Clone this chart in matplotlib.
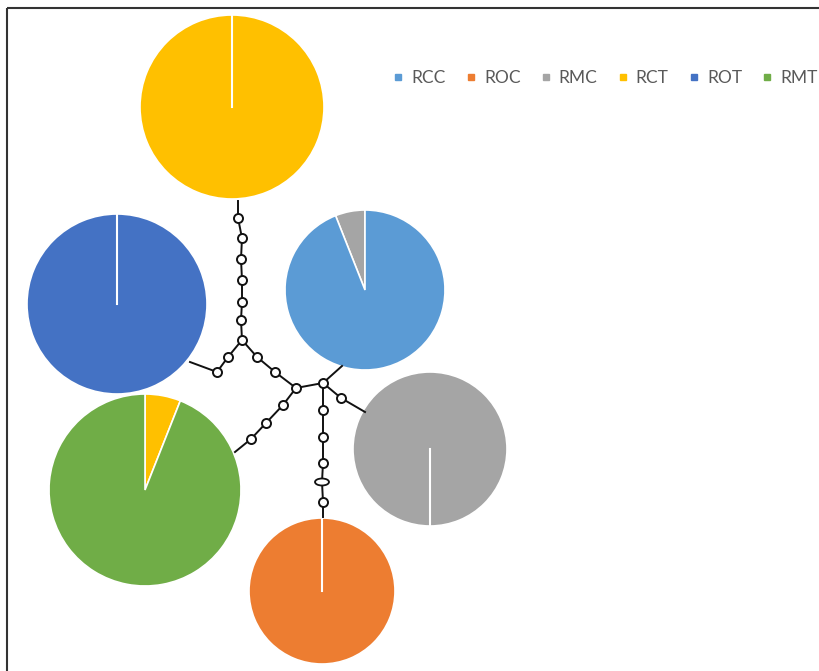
import numpy as np
import matplotlib
matplotlib.use("Agg")
import matplotlib.pyplot as plt
from matplotlib.lines import Line2D
from matplotlib.patches import Ellipse

W, H = 820, 671

# haplotype groups and colours
groups = ["RCC", "ROC", "RMC", "RCT", "ROT", "RMT"]
colors = {"RCC": "#5B9BD5", "ROC": "#ED7D31", "RMC": "#A5A5A5",
          "RCT": "#FFC000", "ROT": "#4472C4", "RMT": "#70AD47"}

# pie contents (share of each group in the haplotype)
pie_RCT = {"RCT": 100}
pie_ROT = {"ROT": 100}
pie_RCC = {"RMC": 6, "RCC": 94}
pie_RMC = {"RMC": 100}
pie_ROC = {"ROC": 100}
pie_RMT = {"RCT": 6, "RMT": 94}

# layout in pixel space (x right, y down): centre x, centre y, radius, start angle, clockwise
layout = [
    (pie_RCT, 232, 107, 92, 90, False),
    (pie_ROT, 117, 304, 90, 90, False),
    (pie_RCC, 365, 290, 80, 90, False),
    (pie_RMC, 430, 449, 77, -90, False),
    (pie_ROC, 322, 591, 73, 90, False),
    (pie_RMT, 145, 490, 96, 90, True),
]

# network branches (pixel space)
paths = [
    [(238, 201), (238, 218), (242, 238), (241, 259), (242, 280), (242, 302), (241, 320), (242, 340)],
    [(242, 340), (228, 357), (217, 372), (190, 362)],
    [(242, 340), (257, 357), (275, 372), (296, 388), (323, 383)],
    [(296, 388), (283, 405), (266, 423), (251, 439), (235, 452)],
    [(323, 383), (342, 366)],
    [(323, 383), (341, 398), (365, 412)],
    [(323, 383), (323, 410), (323, 437), (323, 463), (322, 482), (323, 502), (323, 517)],
]
# median vectors (open circles)
nodes = [(238, 218), (242, 238), (241, 259), (242, 280), (242, 302), (241, 320), (242, 340),
         (228, 357), (217, 372), (257, 357), (275, 372), (296, 388), (323, 383),
         (283, 405), (266, 423), (251, 439), (341, 398),
         (323, 410), (323, 437), (323, 463), (323, 502)]
ellipse_node = (322, 482)

fig = plt.figure(figsize=(W / 100, H / 100), dpi=100)
ax = fig.add_axes([0, 0, 1, 1])

for data, cx, cy, r, start, cw in layout:
    labels = list(data.keys())
    vals = list(data.values())
    ax.pie(vals, colors=[colors[k] for k in labels], center=(cx, H - cy), radius=r,
           startangle=start, counterclock=not cw,
           wedgeprops=dict(edgecolor="white", linewidth=1.2))
    if len(vals) == 1:
        # the seam of a single-slice pie
        a = np.deg2rad(start)
        ax.plot([cx, cx + r * np.cos(a)], [H - cy, H - cy + r * np.sin(a)],
                color="white", lw=1.5, zorder=3)

for p in paths:
    ax.plot([q[0] for q in p], [H - q[1] for q in p], color="#111111", lw=1.4, zorder=4)
ax.plot([q[0] for q in nodes], [H - q[1] for q in nodes], "o", ls="none", ms=6.5,
        mfc="white", mec="#111111", mew=1.4, zorder=5)
ax.add_patch(Ellipse((ellipse_node[0], H - ellipse_node[1]), 14, 7, fc="white",
                     ec="#111111", lw=1.3, zorder=5))

# frame lines on left and top
ax.plot([7, 7], [0, H - 8], color="#333333", lw=1.5, solid_capstyle="butt")
ax.plot([7, W], [H - 8, H - 8], color="#333333", lw=1.5, solid_capstyle="butt")

ax.set_xlim(0, W)
ax.set_ylim(0, H)
ax.set_aspect("equal")
ax.axis("off")

handles = [Line2D([], [], marker="s", ls="none", ms=5, mfc=colors[g], mec=colors[g]) for g in groups]
leg = ax.legend(handles, groups, ncol=6, loc="upper left",
                bbox_to_anchor=(394 / W, 1 - 70 / H), frameon=False,
                handlelength=0.5, handletextpad=0.5, columnspacing=1.2,
                borderpad=0, borderaxespad=0,
                prop={"family": "Lato", "size": 12.5})
for t in leg.get_texts():
    t.set_color("#595959")

fig.savefig("out.png", dpi=100)
